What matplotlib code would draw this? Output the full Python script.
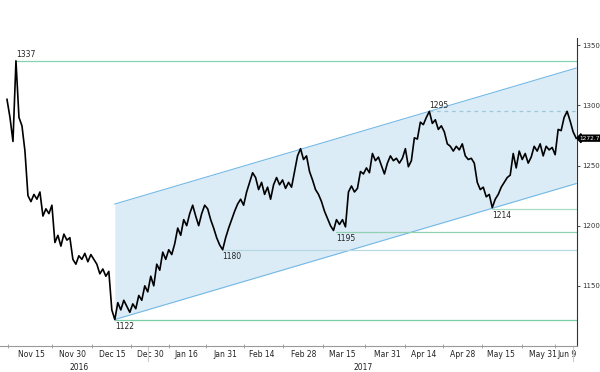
import numpy as np
import matplotlib.pyplot as plt
import matplotlib.transforms as mtransforms

# price path, one value per session step
prices = [1305, 1290, 1270, 1337, 1290, 1283, 1262, 1225, 1220, 1226, 1222, 1228,
          1208, 1214, 1210, 1217, 1186, 1192, 1183, 1193, 1188, 1190, 1172, 1168,
          1175, 1172, 1177, 1170, 1176, 1172, 1168, 1160, 1164, 1158, 1162, 1130,
          1122, 1136, 1130, 1138, 1133, 1128, 1135, 1131, 1142, 1138, 1150, 1145,
          1158, 1150, 1168, 1163, 1178, 1172, 1180, 1176, 1185, 1198, 1192, 1205,
          1200, 1210, 1217, 1208, 1200, 1210, 1217, 1214, 1205, 1198, 1190, 1184,
          1180, 1190, 1198, 1205, 1212, 1218, 1222, 1217, 1228, 1236, 1244, 1240,
          1230, 1236, 1226, 1232, 1222, 1234, 1240, 1234, 1238, 1231, 1236, 1232,
          1245, 1258, 1264, 1255, 1258, 1245, 1238, 1230, 1226, 1220, 1212, 1206,
          1200, 1196, 1205, 1201, 1205, 1199, 1228, 1233, 1228, 1231, 1245, 1243,
          1248, 1244, 1260, 1254, 1257, 1250, 1243, 1252, 1258, 1254, 1256, 1252,
          1256, 1264, 1249, 1254, 1273, 1272, 1286, 1284, 1290, 1295, 1285, 1288,
          1280, 1283, 1278, 1268, 1266, 1262, 1266, 1263, 1268, 1258, 1255, 1256,
          1252, 1236, 1230, 1232, 1224, 1226, 1215, 1222, 1226, 1232, 1236, 1240,
          1242, 1260, 1248, 1262, 1255, 1260, 1252, 1257, 1266, 1262, 1268, 1258,
          1266, 1263, 1265, 1259, 1280, 1279, 1290, 1295, 1287, 1278, 1272.74]

# trend channel
channel_x = [36, 190]
channel_low = [1122, 1235]
channel_high = [1218, 1331]

# support / resistance levels
level_values = [1337, 1122, 1180, 1195, 1295, 1214]
level_start = [3, 36, 72, 110, 141, 162]
level_above = [True, False, False, False, True, False]
level_colors = ['#86d3b3', '#78cfa6', '#b6d9e2', '#8fd1b0', '#9cc8d8', '#a8dcc4']
level_styles = ['-', '-', '-', '-', (0, (3, 3)), '-']

tick_idx = [8, 22, 35, 48, 60, 73, 85, 99, 112, 127, 139, 152, 165, 179, 187]
tick_labels = ['Nov 15', 'Nov 30', 'Dec 15', 'Dec 30', 'Jan 16', 'Jan 31', 'Feb 14',
               'Feb 28', 'Mar 15', 'Mar 31', 'Apr 14', 'Apr 28', 'May 15', 'May 31', 'Jun 9']
year_idx = [24, 119]
year_labels = ['2016', '2017']
year_breaks = [47, 189]

fig = plt.figure(figsize=(6, 3.72), dpi=100)
ax = fig.add_axes([0, 0.0699, 0.9617, 0.828])

x = np.arange(len(prices))

ax.fill_between(channel_x, channel_low, channel_high, color='#dcecf7', lw=0, zorder=1)
ax.plot(channel_x, channel_low, color='#74b9e6', lw=0.8, zorder=2)
ax.plot(channel_x, channel_high, color='#74b9e6', lw=0.8, zorder=2)

for v, s, up, c, ls in zip(level_values, level_start, level_above, level_colors, level_styles):
    ax.plot([s, 190.5], [v, v], color=c, lw=0.9, ls=ls, zorder=2)
    ax.text(s, v + (1.5 if up else -2), str(v), fontsize=5.5,
            va='bottom' if up else 'top', ha='left', color='#222222', zorder=4)

ax.plot(x, prices, color='black', lw=1.2, zorder=3)

ax.set_xlim(-2.33, 190.3)
ax.set_ylim(1100, 1356)

for sp in ['left', 'top']:
    ax.spines[sp].set_visible(False)
ax.spines['right'].set_color('#333333')
ax.spines['right'].set_linewidth(0.8)
ax.spines['bottom'].set_color('#999999')
ax.spines['bottom'].set_linewidth(0.8)

ax.yaxis.tick_right()
ax.set_yticks([1150, 1200, 1250, 1300, 1350])
ax.tick_params(axis='y', labelsize=5, length=2.5, width=0.6, pad=1, colors='#333333')

mids = [(a + b) / 2 for a, b in zip(tick_idx[:-1], tick_idx[1:])]
ax.set_xticks([0.3] + mids)
ax.set_xticklabels([])
ax.set_xticks(tick_idx, minor=True)
ax.set_xticklabels(tick_labels, minor=True)
ax.tick_params(axis='x', which='major', length=3, direction='inout', width=0.6, color='#999999')
ax.tick_params(axis='x', which='minor', length=0, labelsize=5.5, pad=3, colors='#222222')

trans = mtransforms.blended_transform_factory(ax.transData, ax.transAxes)
for xi, lab in zip(year_idx, year_labels):
    ax.text(xi, -0.055, lab, transform=trans, fontsize=5.5, ha='center', va='top', color='#222222')
for xb in year_breaks:
    ax.plot([xb, xb], [0, -0.05], transform=trans, color='#cccccc', lw=0.8, clip_on=False)

ax.text(191.2, prices[-1], '1272.7', fontsize=4.2, color='white', va='center', ha='left',
        bbox=dict(boxstyle='larrow,pad=0.08', fc='black', ec='black'), clip_on=False, zorder=5)

fig.savefig('out.png', dpi=100)
